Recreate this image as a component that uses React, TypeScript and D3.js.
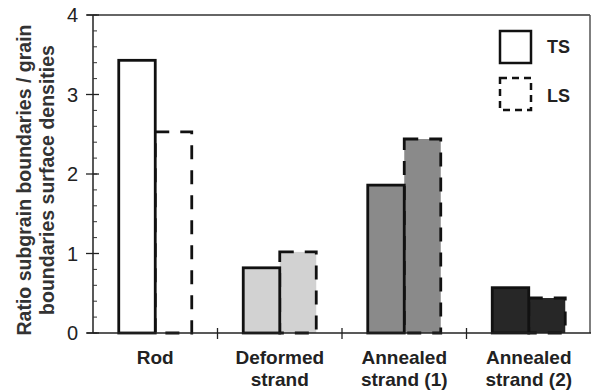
import React from "react";
import * as d3 from "d3";

const categories = ["Rod", "Deformed strand", "Annealed strand (1)", "Annealed strand (2)"];
const categoryLines = [["Rod"], ["Deformed", "strand"], ["Annealed", "strand (1)"], ["Annealed", "strand (2)"]];
const series = ["TS", "LS"];
const tsValues = [3.43, 0.82, 1.86, 0.57];
const lsValues = [2.53, 1.02, 2.44, 0.44];
const fills = ["#ffffff", "#d2d2d2", "#8a8a8a", "#272727"];
const yTicks = [0, 1, 2, 3, 4];

const W = 596, H = 391;
const left = 93, right = 591, top = 15, bottom = 333;
const font = "'Liberation Sans', Arial, sans-serif";

export default function App() {
  const y = d3.scaleLinear().domain([0, 4]).range([bottom, top]);
  const x0 = d3.scaleBand<string>().domain(categories).range([left, right]).padding(0);
  const barW = 36.5;
  const x1 = d3.scaleBand<string>().domain(series).range([x0.bandwidth() / 2 - barW, x0.bandwidth() / 2 + barW]);
  const minor = d3.range(0, 4.0001, 0.2);
  const vals: Record<string, number[]> = { TS: tsValues, LS: lsValues };

  return (
    <svg width={W} height={H} style={{ position: "absolute", left: 0, top: 0, background: "#fff" }}>
      {/* frame */}
      <line x1={87} x2={right - 1} y1={top} y2={top} stroke="#333" strokeWidth={1.5} />
      <line x1={right - 1} x2={right - 1} y1={top} y2={bottom} stroke="#555" strokeWidth={1.5} />
      {/* bars */}
      {categories.map((c, i) => (
        <g key={c}>
          {["LS", "TS"].map((s) => {
            const v = vals[s][i];
            const bx = (x0(c) as number) + (x1(s) as number);
            return (
              <rect key={s} x={bx} y={y(v)} width={x1.bandwidth()} height={bottom - y(v)}
                fill={fills[i]} stroke="#111" strokeWidth={2.8}
                strokeDasharray={s === "LS" ? "14 11" : undefined} />
            );
          })}
        </g>
      ))}
      {/* y axis */}
      <line x1={left} x2={left} y1={top} y2={bottom} stroke="#222" strokeWidth={1.5} />
      {minor.map((t) => (
        <line key={"m" + t} x1={left} x2={left + 4} y1={y(t)} y2={y(t)} stroke="#333" strokeWidth={1} />
      ))}
      {yTicks.map((t) => (
        <g key={"t" + t}>
          <line x1={left - 7} x2={left + 6} y1={y(t)} y2={y(t)} stroke="#222" strokeWidth={1.3} />
          <text x={78} y={y(t) + 7} textAnchor="end" fontFamily={font} fontSize={20} fill="#222">{t}</text>
        </g>
      ))}
      {/* x axis */}
      <line x1={87} x2={right} y1={bottom} y2={bottom} stroke="#222" strokeWidth={1.5} />
      {categories.slice(1).map((c) => (
        <line key={"xt" + c} x1={x0(c)} x2={x0(c)} y1={bottom - 5} y2={bottom + 6} stroke="#222" strokeWidth={1.3} />
      ))}
      {categories.map((c, i) => (
        <text key={"xl" + c} x={(x0(c) as number) + x0.bandwidth() / 2} y={364} textAnchor="middle"
          fontFamily={font} fontSize={19} fontWeight="bold" fill="#222">
          {categoryLines[i].map((l, j) => (
            <tspan key={j} x={(x0(c) as number) + x0.bandwidth() / 2} dy={j === 0 ? 0 : 22}>{l}</tspan>
          ))}
        </text>
      ))}
      {/* y title */}
      <text transform={`translate(31,180) rotate(-90)`} textAnchor="middle" fontFamily={font} fontSize={19.5}
        fontWeight="bold" fill="#333">Ratio subgrain boundaries / grain</text>
      <text transform={`translate(54,180) rotate(-90)`} textAnchor="middle" fontFamily={font} fontSize={19.5}
        fontWeight="bold" fill="#333">boundaries surface densities</text>
      {/* legend */}
      <rect x={500} y={31} width={31} height={32} fill="#fff" stroke="#111" strokeWidth={2.5} />
      <rect x={500} y={78} width={31} height={32} fill="#fff" stroke="#111" strokeWidth={2.5} strokeDasharray="7 5" />
      <text x={547} y={53} fontFamily={font} fontSize={18} fontWeight="bold" fill="#222">TS</text>
      <text x={547} y={102} fontFamily={font} fontSize={18} fontWeight="bold" fill="#222">LS</text>
    </svg>
  );
}
